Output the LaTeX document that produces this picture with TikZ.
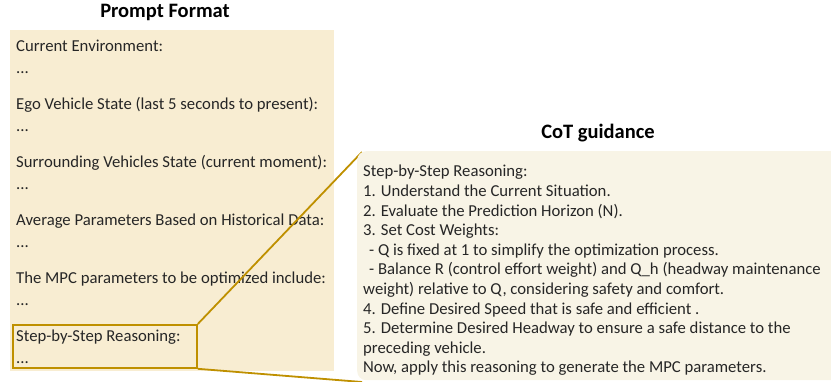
\documentclass[tikz,border=0pt]{standalone}
\usepackage{fontspec}
\setmainfont{Carlito}
\definecolor{promptfill}{RGB}{248,237,210}
\definecolor{cotfill}{RGB}{248,244,230}
\definecolor{gold}{RGB}{191,144,0}
\definecolor{ink}{RGB}{38,38,38}
\begin{document}
\begin{tikzpicture}[x=1pt,y=-1pt,
  panel/.style={anchor=north west, inner sep=0, draw=none},
  body/.style={anchor=north west, inner sep=0, align=left, text=ink},
  heading/.style={font=\fontsize{20.5}{24}\selectfont\bfseries, text=black, inner sep=0},
  link/.style={draw=gold, line width=1.8pt}]
\useasboundingbox (0,0) rectangle (831,381);

% left panel: prompt format
\node[heading] (ptitle) at (165,12) {Prompt Format};
\node[panel, fill=promptfill, minimum width=324pt, minimum height=341pt] (prompt) at (10,30) {};
\node[body, font=\fontsize{16.7}{22}\selectfont] (ptext) at (16,40)
  {Current Environment:\\...\\[14pt]
   Ego Vehicle State (last 5 seconds to present):\\...\\[14pt]
   Surrounding Vehicles State (current moment):\\...\\[14pt]
   Average Parameters Based on Historical Data:\\...\\[14pt]
   The MPC parameters to be optimized include:\\...\\[14pt]
   Step-by-Step Reasoning:\\...};

% highlighted step-by-step part
\node[panel, draw=gold, line width=1.8pt, minimum width=184pt, minimum height=43pt] (sel) at (12,324) {};

% zoom connectors, running under the guidance panel
\coordinate (cotcorner) at (362,152);
\coordinate (cotfoot) at (362,382);
\draw[link] (sel.north east) -- (cotcorner);
\draw[link] (sel.south east) -- (cotfoot);

% right panel: chain-of-thought guidance
\node[heading] (ctitle) at (598,133) {CoT guidance};
\node[panel, fill=cotfill, rounded corners=9pt, minimum width=490pt, minimum height=229pt] (cot) at (357,151) {};
\node[body, font=\fontsize{16.7}{19.6}\selectfont] (ctext) at (363,165)
  {Step-by-Step Reasoning:\\
   1. Understand the Current Situation.\\
   2. Evaluate the Prediction Horizon (N).\\
   3. Set Cost Weights:\\
   \hspace*{6pt}- Q is fixed at 1 to simplify the optimization process.\\
   \hspace*{6pt}- Balance R (control effort weight) and Q\_h (headway maintenance\\
   weight) relative to Q, considering safety and comfort.\\
   4. Define\ Desired Speed that is safe and efficient .\\
   5. Determine Desired Headway to ensure a safe distance to the\\
   preceding vehicle.\\
   Now, apply this reasoning to generate the MPC parameters.};
\end{tikzpicture}
\end{document}
